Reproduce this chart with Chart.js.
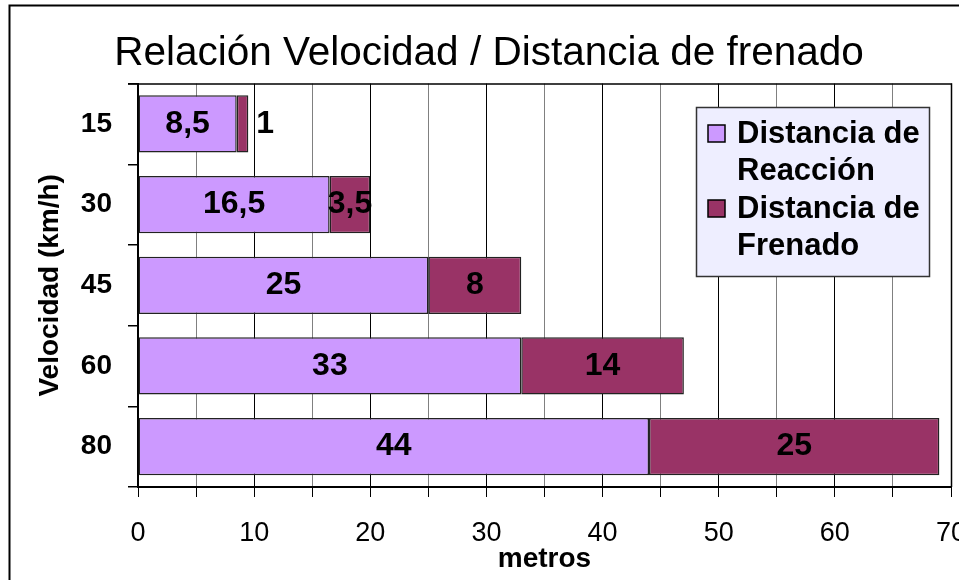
<!DOCTYPE html>
<html><head><meta charset="utf-8">
<script src="https://cdn.jsdelivr.net/npm/chart.js@4.4.0/dist/chart.umd.min.js"></script>
<style>html,body{margin:0;padding:0;background:#fff;} canvas{display:block;}</style>
</head><body>
<canvas id="c" width="959" height="580"></canvas>
<script>
// ---- data ----
const speeds = ['15', '30', '45', '60', '80'];
const reactionDist = [8.5, 16.5, 25, 33, 44];
const brakingDist = [1, 3.5, 8, 14, 25];
const seriesNames = ['Distancia de Reacción', 'Distancia de Frenado'];
const seriesColors = ['#CC99FF', '#993366'];
const xMin = 0, xMax = 70, xStep = 5, xLabelStep = 10;
const chartTitle = 'Relación Velocidad / Distancia de frenado';
const xTitle = 'metros';
const yTitle = 'Velocidad (km/h)';

const FF = '"Liberation Sans", Arial, Helvetica, sans-serif';
Chart.defaults.font.family = FF;
Chart.defaults.color = '#000';

const fmt = v => String(v).replace('.', ',');

const frame = {
  id: 'frame',
  beforeDatasetsDraw(chart) {
    const {ctx, chartArea: a} = chart;
    ctx.save();
    ctx.strokeStyle = '#000';
    ctx.lineWidth = 1.5;
    ctx.beginPath();
    ctx.moveTo(a.left - 10, a.top + 0.5);
    ctx.lineTo(a.right + 0.5, a.top + 0.5);
    ctx.lineTo(a.right + 0.5, a.bottom);
    ctx.stroke();
    ctx.restore();
  },
  afterDraw(chart) {
    const ctx = chart.ctx;
    ctx.save();
    ctx.strokeStyle = '#000';
    ctx.lineWidth = 2;
    ctx.strokeRect(9.5, 5.5, 1000, 1000);
    ctx.restore();
  }
};

const barLabels = {
  id: 'barLabels',
  afterDatasetsDraw(chart) {
    const ctx = chart.ctx;
    ctx.save();
    ctx.font = 'bold 32px ' + FF;
    ctx.fillStyle = '#000';
    ctx.textBaseline = 'middle';
    chart.data.datasets.forEach((ds, di) => {
      const meta = chart.getDatasetMeta(di);
      meta.data.forEach((bar, i) => {
        const txt = fmt(ds.data[i]);
        const l = Math.min(bar.x, bar.base), r = Math.max(bar.x, bar.base);
        if (r - l < 20) {
          ctx.textAlign = 'left';
          ctx.fillText(txt, r + 8, bar.y);
        } else {
          ctx.textAlign = 'center';
          ctx.fillText(txt, (l + r) / 2, bar.y);
        }
      });
    });
    ctx.restore();
  }
};

const boxLegend = {
  id: 'boxLegend',
  afterDraw(chart) {
    const ctx = chart.ctx;
    const x0 = 696, y0 = 107, w = 233, h = 169;
    ctx.save();
    ctx.fillStyle = '#EEEEFF';
    ctx.fillRect(x0, y0, w, h);
    ctx.strokeStyle = '#333';
    ctx.lineWidth = 1.5;
    ctx.strokeRect(x0 + 0.5, y0 + 0.5, w, h);
    ctx.font = 'bold 31px ' + FF;
    ctx.textBaseline = 'middle';
    ctx.textAlign = 'left';
    const lineH = 37.5;
    let y = 134;
    chart.data.datasets.forEach((ds) => {
      const name = ds.label;
      const k = name.lastIndexOf(' ');
      const lines = [name.slice(0, k), name.slice(k + 1)];
      ctx.fillStyle = ds.backgroundColor;
      ctx.fillRect(708, y - 9, 17, 17);
      ctx.strokeStyle = '#000';
      ctx.lineWidth = 1.5;
      ctx.strokeRect(708, y - 9, 17, 17);
      ctx.fillStyle = '#000';
      lines.forEach((ln, j) => ctx.fillText(ln, 737, y + j * lineH));
      y += 2 * lineH;
    });
    ctx.restore();
  }
};

new Chart(document.getElementById('c'), {
  type: 'bar',
  data: {
    labels: speeds,
    datasets: [
      { label: seriesNames[0], data: reactionDist, backgroundColor: seriesColors[0],
        borderColor: '#222', borderWidth: 1.5, borderSkipped: false,
        barPercentage: 0.71, categoryPercentage: 1 },
      { label: seriesNames[1], data: brakingDist, backgroundColor: seriesColors[1],
        borderColor: '#222', borderWidth: 1.5, borderSkipped: false,
        barPercentage: 0.71, categoryPercentage: 1 }
    ]
  },
  options: {
    indexAxis: 'y',
    responsive: false,
    animation: false,
    devicePixelRatio: 1,
    layout: { padding: { left: 27, right: 8, top: 0, bottom: 0 } },
    plugins: {
      legend: { display: false },
      tooltip: { enabled: false },
      title: {
        display: true, text: chartTitle, color: '#000',
        font: { size: 40.5, weight: 'normal', lineHeight: 1.2 },
        padding: { top: 30, bottom: 5 }
      }
    },
    scales: {
      x: {
        stacked: true, min: xMin, max: xMax,
        afterFit(s) { s.height = 93; s.paddingLeft = 0; s.paddingRight = 0; },
        ticks: {
          stepSize: xStep, autoSkip: false, maxRotation: 0, padding: 20,
          font: { size: 27 }, color: '#000',
          callback: v => (v % xLabelStep === 0 ? v : '')
        },
        grid: {
          color: c => (c.tick && c.tick.value % xLabelStep === 0 ? '#000' : '#808080'),
          lineWidth: 1, tickLength: 10,
          tickColor: '#000'
        },
        border: { display: true, color: '#000', width: 2 },
        title: { display: true, text: xTitle, color: '#000',
          font: { size: 28, weight: 'bold' }, padding: { top: 0, bottom: 4 } }
      },
      y: {
        stacked: true,
        afterFit(s) { s.width = 111; s.paddingTop = 0; s.paddingBottom = 0; },
        ticks: { font: { size: 28, weight: 'bold' }, color: '#000', padding: 16 },
        grid: { drawOnChartArea: false, drawTicks: true, tickLength: 10, color: '#000', lineWidth: 1.5 },
        border: { display: true, color: '#000', width: 2 },
        title: { display: true, text: yTitle, color: '#000',
          font: { size: 28, weight: 'bold' }, padding: { top: 6, bottom: 0 } }
      }
    }
  },
  plugins: [frame, barLabels, boxLegend]
});
</script>
</body></html>
